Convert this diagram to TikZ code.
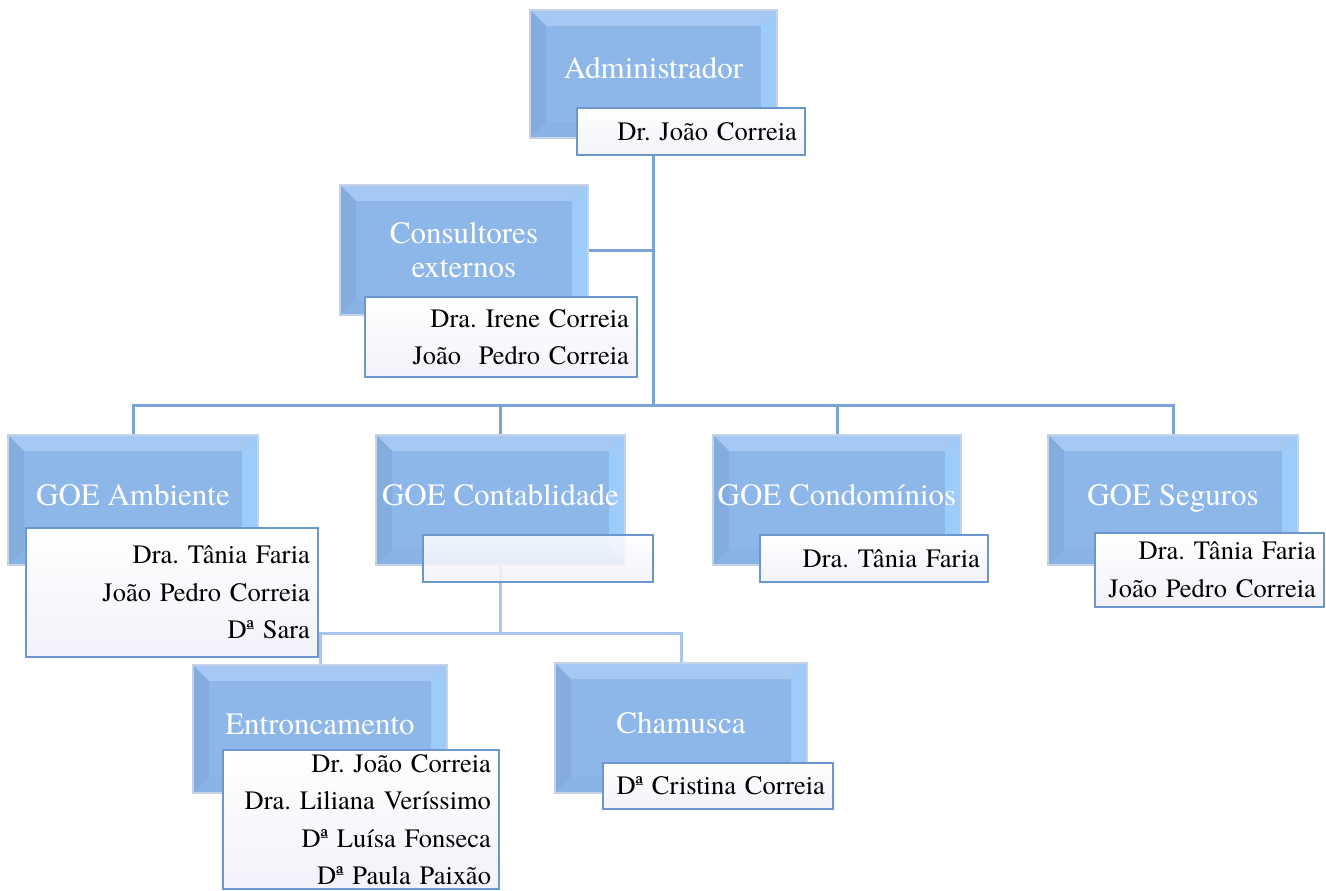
\documentclass[tikz,border=0pt]{standalone}
\usepackage{fontspec}
\setmainfont{texgyretermes-regular.otf}
\frenchspacing
\usetikzlibrary{calc}
\definecolor{boxmain}{RGB}{141,183,233}
\definecolor{boxrim}{RGB}{196,212,230}
\definecolor{bevtop}{RGB}{166,201,243}
\definecolor{bevleft}{RGB}{132,172,223}
\definecolor{bevright}{RGB}{158,204,250}
\definecolor{bevbot}{RGB}{137,179,229}
\definecolor{subedge}{RGB}{108,150,206}
\definecolor{subbot}{RGB}{242,242,250}
\definecolor{connc}{RGB}{122,163,216}
\definecolor{connl}{RGB}{170,198,238}
\newcommand\ttlfont{\fontsize{31}{34}\selectfont}
\newcommand\subfnt{\fontsize{26.5}{37.5}\selectfont}
\tikzset{
  conn/.style={draw=connc, line width=3pt},
  connlight/.style={draw=connl, line width=3pt},
  bluebox/.style={minimum width=248pt, minimum height=130pt, inner sep=0pt,
    fill=boxmain, draw=boxrim, line width=1.8pt, text=white, font=\ttlfont, align=center,
    path picture={
      \fill[bevtop] (path picture bounding box.north west) -- (path picture bounding box.north east)
        -- ([xshift=-16pt,yshift=-16pt]path picture bounding box.north east)
        -- ([xshift=16pt,yshift=-16pt]path picture bounding box.north west) -- cycle;
      \fill[bevbot] (path picture bounding box.south west) -- (path picture bounding box.south east)
        -- ([xshift=-16pt,yshift=16pt]path picture bounding box.south east)
        -- ([xshift=16pt,yshift=16pt]path picture bounding box.south west) -- cycle;
      \fill[bevleft] (path picture bounding box.north west) -- (path picture bounding box.south west)
        -- ([xshift=16pt,yshift=16pt]path picture bounding box.south west)
        -- ([xshift=16pt,yshift=-16pt]path picture bounding box.north west) -- cycle;
      \fill[bevright] (path picture bounding box.north east) -- (path picture bounding box.south east)
        -- ([xshift=-16pt,yshift=16pt]path picture bounding box.south east)
        -- ([xshift=-16pt,yshift=-16pt]path picture bounding box.north east) -- cycle;
    }},
  oneline/.style={text height=22pt, text depth=12pt},
  subbox/.style={draw=subedge, line width=1.8pt, top color=white, bottom color=subbot,
    inner xsep=8pt, inner ysep=0pt, align=right, font=\subfnt, text=black}
}
\begin{document}
\begin{tikzpicture}[x=1pt,y=-1pt]
\useasboundingbox[fill=white] (0,0) rectangle (1326,891);

% blue boxes
\node[bluebox, oneline, minimum width=247pt, minimum height=128pt] (adm) at (653.5,74) {Administrador};
\node[bluebox] (cons) at (464,250) {Consultores\\externos};
\node[bluebox, oneline, minimum width=250pt] (amb) at (133,500) {GOE Ambiente};
\node[bluebox, oneline, minimum width=249pt] (cont) at (500.5,500) {GOE Contablidade};
\node[bluebox, oneline] (cond) at (837,500) {GOE Condomínios};
\node[bluebox, oneline, minimum width=250pt] (seg) at (1173,500) {GOE Seguros};
\node[bluebox, oneline, minimum width=254pt, minimum height=128pt] (entr) at (320,729) {Entroncamento};
\node[bluebox, oneline, minimum width=252pt] (cham) at (681,728) {Chamusca};

% connectors
\coordinate (hub) at (653.5,405);
\coordinate (hubb) at (500.5,633);
\draw[conn] (adm.south) -- (hub);
\draw[conn] (cons.east) -- (cons.east -| adm.south);
\draw[conn] (hub) -| (amb.north);
\draw[conn] (hub) -| (cont.north);
\draw[conn] (hub) -| (cond.north);
\draw[conn] (hub) -| (seg.north);
\draw[connlight] (cont.south) -- (hubb);
\draw[connlight] (hubb) -| (entr.north);
\draw[connlight] (hubb) -| (cham.north);

% sub boxes
\node[subbox, minimum width=228pt, minimum height=47pt, text width=212pt] (admsub) at (691,131.5) {Dr. João Correia};
\node[subbox, minimum width=272pt, minimum height=80pt, text width=256pt] (conssub) at (501,337) {Dra. Irene Correia\\João\ \ Pedro Correia};
\node[subbox, minimum width=292pt, minimum height=129pt, text width=276pt] (ambsub) at (172,592.5) {Dra. Tânia Faria\\João Pedro Correia\\Dª Sara};
\node[subbox, fill opacity=0.85, minimum width=230pt, minimum height=47pt, text width=214pt] (contsub) at (538,558.5) {};
\node[subbox, minimum width=228pt, minimum height=47pt, text width=212pt] (condsub) at (874,558.5) {Dra. Tânia Faria};
\node[subbox, minimum width=229pt, minimum height=74pt, text width=213pt] (segsub) at (1209.5,570) {Dra. Tânia Faria\\João Pedro Correia};
\node[subbox, minimum width=276pt, minimum height=139pt, text width=260pt] (entrsub) at (361,819.5) {Dr. João Correia\\Dra. Liliana Veríssimo\\Dª Luísa Fonseca\\Dª Paula Paixão};
\node[subbox, minimum width=230pt, minimum height=46pt, text width=214pt] (chamsub) at (718,786) {Dª Cristina Correia};
\end{tikzpicture}
\end{document}
